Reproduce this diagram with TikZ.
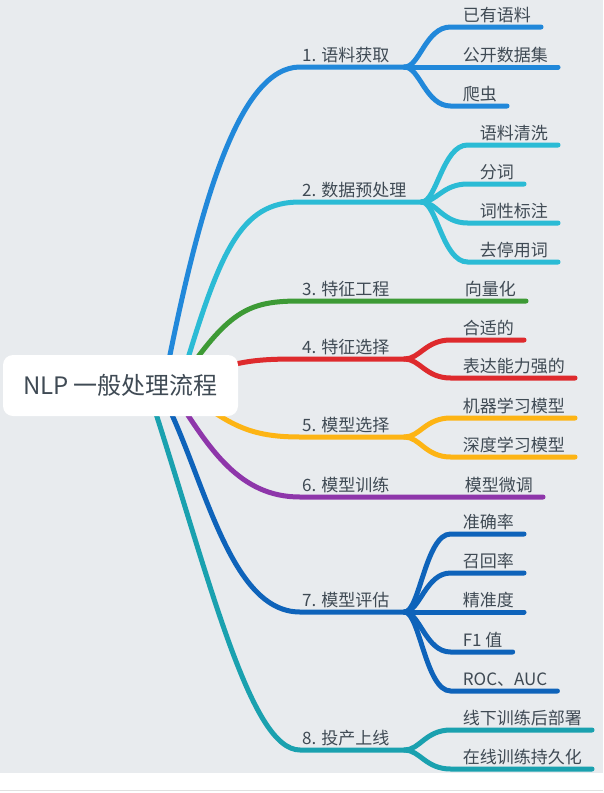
\documentclass[tikz,border=0pt]{standalone}
\usepackage{fontspec}
\setmainfont{Noto Sans CJK SC}
\usetikzlibrary{calc}
\definecolor{PaperGray}{HTML}{E8EBEE}
\definecolor{InkGray}{HTML}{3F4A54}
\definecolor{LineBlue}{HTML}{2188DA}
\definecolor{LineCyan}{HTML}{2BBBD5}
\definecolor{LineGreen}{HTML}{3D9A35}
\definecolor{LineRed}{HTML}{DE2A2D}
\definecolor{LineAmber}{HTML}{FDB414}
\definecolor{LinePurple}{HTML}{8E36AA}
\definecolor{LineNavy}{HTML}{0E63BA}
\definecolor{LineTeal}{HTML}{1AA1AF}

\begin{document}
\begin{tikzpicture}[x=1pt,y=-1pt,
topic/.style={anchor=base west,inner sep=0pt,text=InkGray,font=\fontsize{17}{20}\selectfont},
branch/.style={line width=5pt,line cap=round},
rootbox/.style={fill=white,rounded corners=10pt,minimum width=235pt,minimum height=61pt,text=InkGray,font=\fontsize{24}{28}\selectfont}]
\useasboundingbox (0,0) rectangle (603,793);
% canvas
\fill[PaperGray] (0,0) rectangle (603,773);
\draw[black!12,line width=1pt] (0,790.5) -- (603,790.5);

% first level topics
\node[topic] (t1) at (302,61) {1. 语料获取};
\node[topic] (t2) at (302,196) {2. 数据预处理};
\node[topic] (t3) at (302,295) {3. 特征工程};
\node[topic] (t4) at (302,353) {4. 特征选择};
\node[topic] (t5) at (302,431) {5. 模型选择};
\node[topic] (t6) at (302,491) {6. 模型训练};
\node[topic] (t7) at (302,606) {7. 模型评估};
\node[topic] (t8) at (302,744) {8. 投产上线};
\foreach \i in {1,2,4,5,7,8}
  \coordinate (f\i) at ($(t\i.base east)+(15,6)$);
\node[topic] (l3) at ($(t3.base east)+(75,0)$) {向量化};
\node[topic] (l6) at ($(t6.base east)+(75,0)$) {模型微调};

% branches from the root
\draw[branch,LineBlue] (165,380) .. controls +(35,-180) and +(-60,0) .. (300,67) -- (f1);
\draw[branch,LineCyan] (180,385) .. controls +(40,-135) and +(-60,0) .. (300,202) -- (f2);
\draw[branch,LineGreen] (185,375) .. controls +(45,-65) and +(-50,0) .. (300,301) -- ($(l3.base east)+(10,6)$);
\draw[branch,LineRed] (200,375) .. controls +(40,-15) and +(-40,0) .. (300,359) -- (f4);
\draw[branch,LineAmber] (190,395) .. controls +(40,30) and +(-50,0) .. (300,437) -- (f5);
\draw[branch,LinePurple] (175,395) .. controls +(35,55) and +(-60,0) .. (300,497) -- ($(l6.base east)+(10,6)$);
\draw[branch,LineNavy] (165,400) .. controls +(40,80) and +(-70,0) .. (300,612) -- (f7);
\draw[branch,LineTeal] (150,395) .. controls +(60,185) and +(-50,0) .. (300,750) -- (f8);

% leaves
\foreach \g/\col/\list in {1/LineBlue/{已有语料/-40,公开数据集/0,爬虫/39},
    2/LineCyan/{语料清洗/-57,分词/-18,词性标注/21,去停用词/60},
    4/LineRed/{合适的/-19,表达能力强的/19},
    5/LineAmber/{机器学习模型/-19,深度学习模型/20},
    7/LineNavy/{准确率/-78,召回率/-39,精准度/0,F1 值/40,ROC、AUC/79},
    8/LineTeal/{线下训练后部署/-20,在线训练持久化/19}}
  \foreach \txt/\dy [count=\i] in \list {
    \node[topic] (l\g\i) at ($(f\g)+(58,\dy-6)$) {\txt};
    \draw[branch,\col] (f\g) .. controls +(15,0) and +(-25,0) .. ($(l\g\i.base west)+(-12,6)$)
      -- ($(l\g\i.base east)+(10,6)$);
  }

\node[rootbox] (root) at (120.5,385.5) {NLP 一般处理流程};
\end{tikzpicture}
\end{document}
